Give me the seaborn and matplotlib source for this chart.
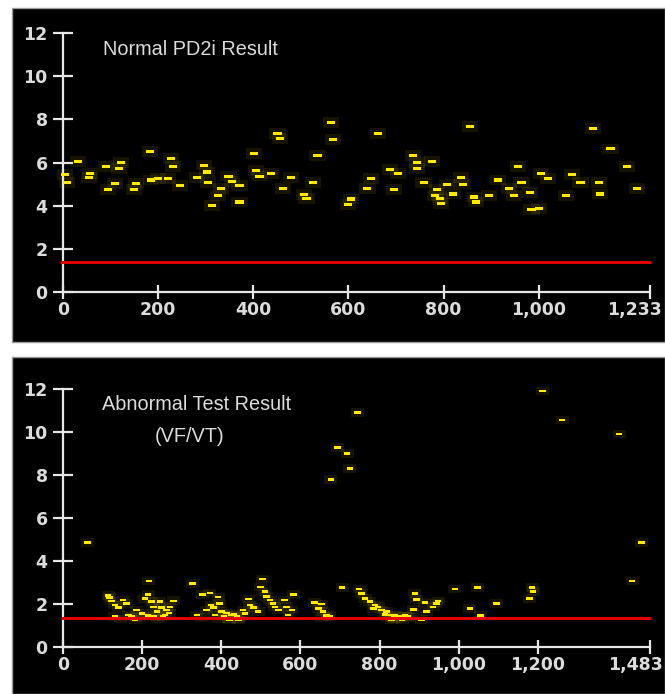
import matplotlib
matplotlib.use("Agg")
import matplotlib.pyplot as plt
import matplotlib.transforms as mtransforms
import numpy as np
import pandas as pd
import seaborn as sns
from matplotlib.patches import Rectangle
from matplotlib.path import Path

# ---- data ----
THRESHOLD = 1.37

normal_x = [4, 8, 32, 57, 55, 90, 94, 122, 117, 109, 154, 149, 183, 185, 200, 220, 227, 231,
            246, 281, 297, 302, 305, 314, 326, 333, 348, 356, 371, 371, 401, 405, 413, 437,
            451, 457, 463, 479, 507, 512, 525, 535, 564, 568, 605, 599,
            662, 640, 648, 696, 688, 705, 735, 745, 744, 775, 758, 787, 783, 792, 794, 807,
            820, 836, 840, 855, 864, 868, 896, 914, 938, 948, 957, 964, 981, 985, 1000, 1005,
            1020, 1057, 1070, 1088, 1114, 1127, 1129, 1151, 1185, 1206]
normal_y = [5.46, 5.06, 6.03, 5.49, 5.31, 5.80, 4.75, 5.99, 5.71, 5.01, 5.01, 4.74, 6.50, 5.19,
            5.25, 5.25, 6.20, 5.80, 4.95, 5.32, 5.88, 5.56, 5.08, 4.00, 4.46, 4.78, 5.37, 5.12,
            4.95, 4.17, 6.40, 5.62, 5.37, 5.49, 7.36, 7.10, 4.78, 5.32, 4.51, 4.35, 5.08, 6.34,
            7.87, 7.05, 4.31, 4.04,
            7.36, 4.78, 5.25, 4.74, 5.68, 5.48, 6.34, 5.99, 5.73, 6.03, 5.08, 4.74, 4.46, 4.35,
            4.09, 5.00, 4.54, 5.32, 5.00, 7.65, 4.40, 4.17, 4.46, 5.19, 4.78, 4.46, 5.80, 5.08,
            4.60, 3.81, 3.87, 5.49, 5.25, 4.46, 5.43, 5.08, 7.58, 5.08, 4.54, 6.63, 5.80, 4.78]

abnormal_x = [62, 114, 118, 123, 131, 140, 152, 161, 131, 165, 173, 186, 194, 207, 215, 217,
              224, 228, 237, 245, 249, 258, 262, 270, 279, 228, 215, 253,
              327, 352, 371, 392, 374, 396, 363, 380, 338, 350, 384, 401, 413, 426, 439, 447,
              417, 455, 468, 472, 481, 493, 504, 499, 510, 514, 523, 531, 535, 544, 559, 565,
              569, 582, 578,
              636, 653, 645, 657, 666, 653, 674, 677, 694, 718, 725, 744, 705, 748, 754, 763,
              775, 788, 796, 784, 805, 817, 813, 826, 838, 851, 864, 876, 821, 834, 886, 889,
              893, 914, 918, 935, 944, 948, 906, 990, 1047, 1028, 1055, 1095, 1185, 1188, 1178,
              1211, 1261, 1405, 1461, 1438,
              393, 407, 421, 432, 444, 460, 842, 857, 870, 830, 145, 182, 200, 240, 268]
abnormal_y = [4.87, 2.39, 2.30, 2.14, 1.95, 1.83, 2.19, 2.03, 1.41, 1.49, 1.41, 1.72, 1.36,
              2.26, 2.45, 3.07, 2.11, 1.87, 1.64, 2.11, 1.83, 1.49, 1.72, 1.87, 2.15, 1.41,
              1.46, 1.41,
              2.96, 2.45, 2.51, 2.33, 1.95, 2.03, 1.72, 1.83, 1.49, 1.36, 1.49, 1.64, 1.57,
              1.49, 1.41, 1.33, 1.33, 1.72, 2.23, 1.95, 1.83, 1.64, 3.16, 2.79, 2.57, 2.34,
              2.19, 2.03, 1.87, 1.72, 2.19, 1.87, 1.49, 2.45, 1.72,
              2.08, 1.99, 1.80, 1.64, 1.46, 1.36, 1.41, 7.80, 9.29, 9.01, 8.31, 10.90, 2.76,
              2.70, 2.50, 2.26, 2.11, 1.95, 1.87, 1.80, 1.72, 1.64, 1.52, 1.49, 1.46, 1.41,
              1.46, 1.36, 1.36, 1.33, 1.75, 2.50, 2.22, 2.06, 1.64, 1.87, 2.03, 2.14, 1.29,
              2.70, 2.76, 1.80, 1.46, 2.03, 2.76, 2.57, 2.26, 11.90, 10.56, 9.91, 4.87, 3.07,
              1.30, 1.45, 1.28, 1.52, 1.25, 1.55, 1.30, 1.27, 1.42, 1.25, 1.30, 1.27, 1.55,
              1.32, 1.58]

normal_ticks = [0, 200, 400, 600, 800, 1000, 1233]
normal_ticklabels = ["0", "200", "400", "600", "800", "1,000", "1,233"]
abnormal_ticks = [0, 200, 400, 600, 800, 1000, 1200, 1483]
abnormal_ticklabels = ["0", "200", "400", "600", "800", "1,000", "1,200", "1,483"]
y_ticks = [0, 2, 4, 6, 8, 10, 12]

W, H = 665, 694
AXIS_COLOR = "#e6e6e6"
LABEL_COLOR = "#dcdcdc"
DOT_COLOR = "#ffea00"
RED = "#e00000"

dash = Path([(-1.3, -0.5), (1.3, -0.5), (1.3, 0.5), (-1.3, 0.5), (-1.3, -0.5)], closed=True)
halo = Path([(-1.5, -1.0), (1.5, -1.0), (1.5, 1.0), (-1.5, 1.0), (-1.5, -1.0)], closed=True)


def place_axes(fig, xpix, ypix, xmax, xlim, ylim):
    # xpix: pixel columns of data x=0 and x=xmax, ypix: pixel rows of y=0 and y=12
    sx = (xpix[1] - xpix[0]) / xmax
    sy = (ypix[0] - ypix[1]) / 12.0
    left = xpix[0] + xlim[0] * sx
    right = xpix[0] + xlim[1] * sx
    top = ypix[0] - ylim[1] * sy
    bottom = ypix[0] - ylim[0] * sy
    ax = fig.add_axes([left / W, 1 - bottom / H, (right - left) / W, (bottom - top) / H])
    ax.set_xlim(*xlim)
    ax.set_ylim(*ylim)
    ax.set_zorder(2)
    return ax


def style_axes(ax, fig, xmax, ticks, ticklabels):
    ax.set_facecolor("none")
    for side in ["top", "right"]:
        ax.spines[side].set_visible(False)
    ax.spines["left"].set_position(("data", 0))
    ax.spines["bottom"].set_position(("data", 0))
    ax.spines["left"].set_bounds(0, 12)
    ax.spines["bottom"].set_bounds(0, xmax)
    for side in ["left", "bottom"]:
        ax.spines[side].set_color(AXIS_COLOR)
        ax.spines[side].set_linewidth(1.6)
    ax.set_xticks(ticks)
    ax.set_xticklabels(ticklabels)
    ax.set_yticks(y_ticks)
    ax.tick_params(axis="y", direction="inout", length=14, width=1.6, color=AXIS_COLOR,
                   labelcolor=LABEL_COLOR, labelsize=12.5, pad=4)
    ax.tick_params(axis="x", direction="inout", length=9.5, width=1.6, color=AXIS_COLOR,
                   labelcolor=LABEL_COLOR, labelsize=12.5, pad=2)
    for lab in ax.get_xticklabels() + ax.get_yticklabels():
        lab.set_fontweight("bold")
        lab.set_family("DejaVu Sans")
    last = ax.get_xticklabels()[-1]
    last.set_transform(last.get_transform() +
                       mtransforms.ScaledTranslation(-0.15, 0, fig.dpi_scale_trans))
    ax.set_xlabel("")
    ax.set_ylabel("")


def draw_points(ax, xs, ys, size):
    df = pd.DataFrame({"x": xs, "y": ys})
    sns.scatterplot(data=df, x="x", y="y", marker=halo, s=size * 4.0, color="#b09a00",
                    alpha=0.13, edgecolor="none", linewidth=0, ax=ax, legend=False, zorder=2)
    sns.scatterplot(data=df, x="x", y="y", marker=dash, s=size, color=DOT_COLOR,
                    edgecolor="none", linewidth=0, ax=ax, legend=False, zorder=3)


fig = plt.figure(figsize=(W / 100, H / 100), dpi=100, facecolor="white")

# black panels
fig.patches.append(Rectangle((12 / W, 1 - 342 / H), (W - 12) / W, 334 / H,
                             transform=fig.transFigure, facecolor="black",
                             edgecolor="#9a9a9a", linewidth=1, zorder=-10))
fig.patches.append(Rectangle((12 / W, 0), (W - 12) / W, 1 - 357 / H,
                             transform=fig.transFigure, facecolor="black",
                             edgecolor="#9a9a9a", linewidth=1, zorder=-10))

# top: normal result
ax1 = place_axes(fig, (63, 649.5), (292, 33), 1233, (-12, 1250), (-0.45, 12.45))
draw_points(ax1, normal_x, normal_y, 34)
ax1.plot([-6, 1237], [THRESHOLD, THRESHOLD], color=RED, lw=2.2, zorder=4, solid_capstyle="butt")
style_axes(ax1, fig, 1233, normal_ticks, normal_ticklabels)
ax1.text(84, 11.25, "Normal PD2i Result", color=LABEL_COLOR, fontsize=14.3,
         family="Liberation Sans", va="center", ha="left")

# bottom: abnormal result
ax2 = place_axes(fig, (63, 650), (647, 389), 1483, (-14, 1500), (-0.45, 12.45))
draw_points(ax2, abnormal_x, abnormal_y, 22)
ax2.plot([-6, 1486], [THRESHOLD, THRESHOLD], color=RED, lw=2.2, zorder=4, solid_capstyle="butt")
style_axes(ax2, fig, 1483, abnormal_ticks, abnormal_ticklabels)
ax2.text(98, 11.3, "Abnormal Test Result", color=LABEL_COLOR, fontsize=14.3,
         family="Liberation Sans", va="center", ha="left")
ax2.text(321, 9.77, "(VF/VT)", color=LABEL_COLOR, fontsize=14.3,
         family="Liberation Sans", va="center", ha="center")

fig.savefig("out.png", dpi=100, facecolor="white")
